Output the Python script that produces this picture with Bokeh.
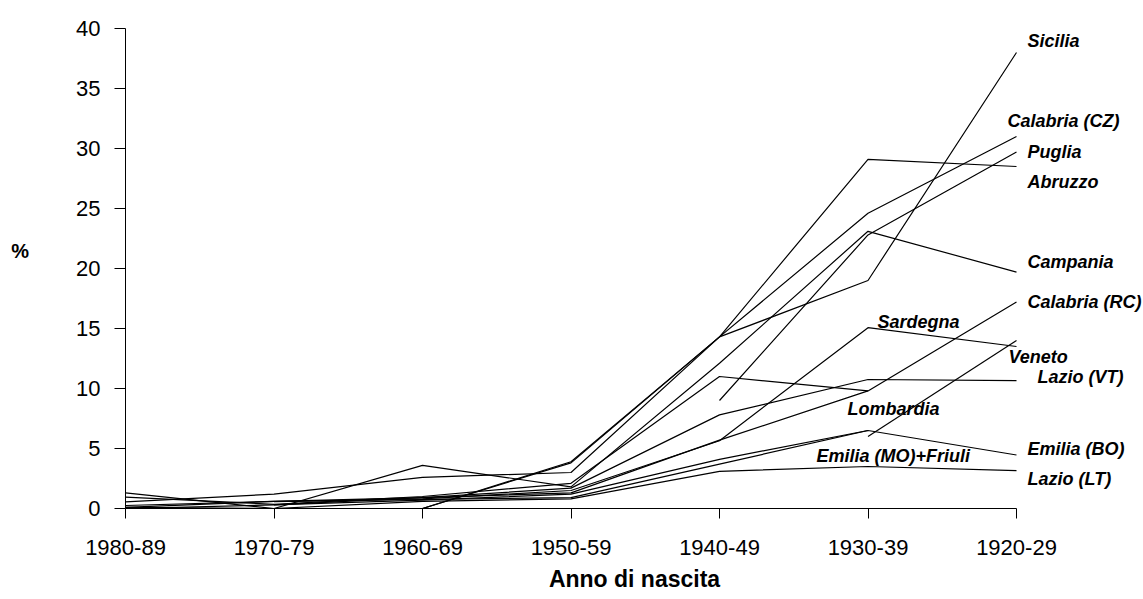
from bokeh.plotting import figure
from bokeh.models import Range1d, FixedTicker, Label
from bokeh.embed import file_html
from bokeh.resources import INLINE

nan = float("nan")

# ---- data -------------------------------------------------------------
categories = ["1980-89", "1970-79", "1960-69", "1950-59", "1940-49", "1930-39", "1920-29"]
y_ticks = [0, 5, 10, 15, 20, 25, 30, 35, 40]

sicilia        = [0.1, 0.0, 0.0, 3.9, 14.3, 19.0, 38.0]
calabria_cz    = [0.55, 1.2, 2.6, 3.0, 14.3, 24.6, 31.0]
puglia         = [nan, nan, nan, nan, 9.0, 22.8, 29.7]
abruzzo        = [0.0, 0.0, 0.0, 3.8, 14.3, 29.1, 28.5]
campania       = [1.3, 0.0, 3.6, 1.8, 12.1, 23.1, 19.7]
calabria_rc    = [nan, 0.3, 0.9, 1.3, 5.7, 9.8, 17.2]
sardegna       = [nan, 0.57, 0.8, 1.5, 5.65, 15.07, 13.5]
veneto         = [nan, nan, nan, nan, nan, 6.0, 14.0]
lazio_vt       = [0.25, 0.6, 0.9, 1.7, 7.8, 10.75, 10.65]
lombardia      = [0.95, 0.35, 1.0, 2.1, 11.0, 9.8, nan]
emilia_bo      = [0.0, 0.3, 0.7, 1.2, 4.1, 6.5, 4.46]
emilia_mo_fr   = [0.1, 0.6, 0.75, 0.9, 3.7, 6.5, nan]
lazio_lt       = [0.0, 0.0, 0.6, 0.8, 3.1, 3.5, 3.15]

series = [
    ("Sicilia", sicilia),
    ("Calabria (CZ)", calabria_cz),
    ("Puglia", puglia),
    ("Abruzzo", abruzzo),
    ("Campania", campania),
    ("Calabria (RC)", calabria_rc),
    ("Sardegna", sardegna),
    ("Veneto", veneto),
    ("Lazio (VT)", lazio_vt),
    ("Lombardia", lombardia),
    ("Emilia (BO)", emilia_bo),
    ("Emilia (MO)+Friuli", emilia_mo_fr),
    ("Lazio (LT)", lazio_lt),
]

# ---- layout (label anchors, in data coordinates) ------------------------
label_anchor = {
    "Sicilia": (6.074, 38.96),
    "Calabria (CZ)": (5.939, 32.29),
    "Puglia": (6.074, 29.71),
    "Abruzzo": (6.074, 27.21),
    "Campania": (6.074, 20.54),
    "Calabria (RC)": (6.074, 17.21),
    "Sardegna": (5.064, 15.58),
    "Veneto": (5.946, 12.62),
    "Lazio (VT)": (6.141, 10.96),
    "Lombardia": (4.862, 8.33),
    "Emilia (BO)": (6.074, 4.96),
    "Emilia (MO)+Friuli": (4.653, 4.37),
    "Lazio (LT)": (6.074, 2.46),
}

FONT = "Liberation Sans"
x_idx = list(range(len(categories)))
W, H = 1143, 599
LEFT, TOP = 125, 28
step_px = 148.5
x_max = (W - LEFT) / step_px

p = figure(width=W, height=H, output_backend="svg", toolbar_location=None,
           x_range=Range1d(0, x_max), y_range=Range1d(0, 40),
           min_border_left=LEFT, min_border_right=0, min_border_top=TOP,
           min_border_bottom=H - TOP - 480)
p.background_fill_color = "white"
p.border_fill_color = "white"
p.outline_line_color = None
p.xgrid.visible = False
p.ygrid.visible = False

for name, vals in series:
    p.line(x_idx, vals, line_color="black", line_width=1.2)

# axes
p.xaxis.ticker = FixedTicker(ticks=x_idx)
p.xaxis.major_label_overrides = {i: c for i, c in enumerate(categories)}
p.xaxis.bounds = (0, len(categories) - 1)
p.yaxis.ticker = FixedTicker(ticks=y_ticks)
p.yaxis.bounds = (0, 40)
for ax in (p.xaxis[0], p.yaxis[0]):
    ax.axis_line_color = "black"
    ax.axis_line_width = 1
    ax.major_tick_line_color = "black"
    ax.major_tick_in = 0
    ax.minor_tick_in = 0
    ax.minor_tick_out = 0
    ax.major_label_text_font = FONT
    ax.major_label_text_font_size = "22px"
    ax.major_label_text_color = "black"
p.xaxis.major_tick_out = 10
p.yaxis.major_tick_out = 11
p.xaxis.major_label_standoff = 21
p.yaxis.major_label_standoff = 14
p.xaxis.axis_label = "Anno di nascita"
p.xaxis.axis_label_text_font = FONT
p.xaxis.axis_label_text_font_size = "23px"
p.xaxis.axis_label_text_font_style = "bold"
p.xaxis.axis_label_text_color = "black"
p.xaxis.axis_label_standoff = 8

# "%" sits a little above the middle of the axis in the reference: a second
# (empty) line under it lifts it by half a line
p.yaxis.axis_label = "%\n"
p.yaxis.axis_label_orientation = "horizontal"
p.yaxis.axis_label_text_font = FONT
p.yaxis.axis_label_text_font_size = "20px"
p.yaxis.axis_label_text_font_style = "bold"
p.yaxis.axis_label_text_color = "black"
p.yaxis.axis_label_text_line_height = 1.6
p.yaxis.axis_label_standoff = 44

for name, _ in series:
    lx, ly = label_anchor[name]
    p.add_layout(Label(x=lx, y=ly, text=name, text_font=FONT, text_font_size="18px",
                       text_font_style="bold italic", text_color="black",
                       text_align="left", text_baseline="middle"))

open("out.html", "w").write(file_html(p, INLINE))
